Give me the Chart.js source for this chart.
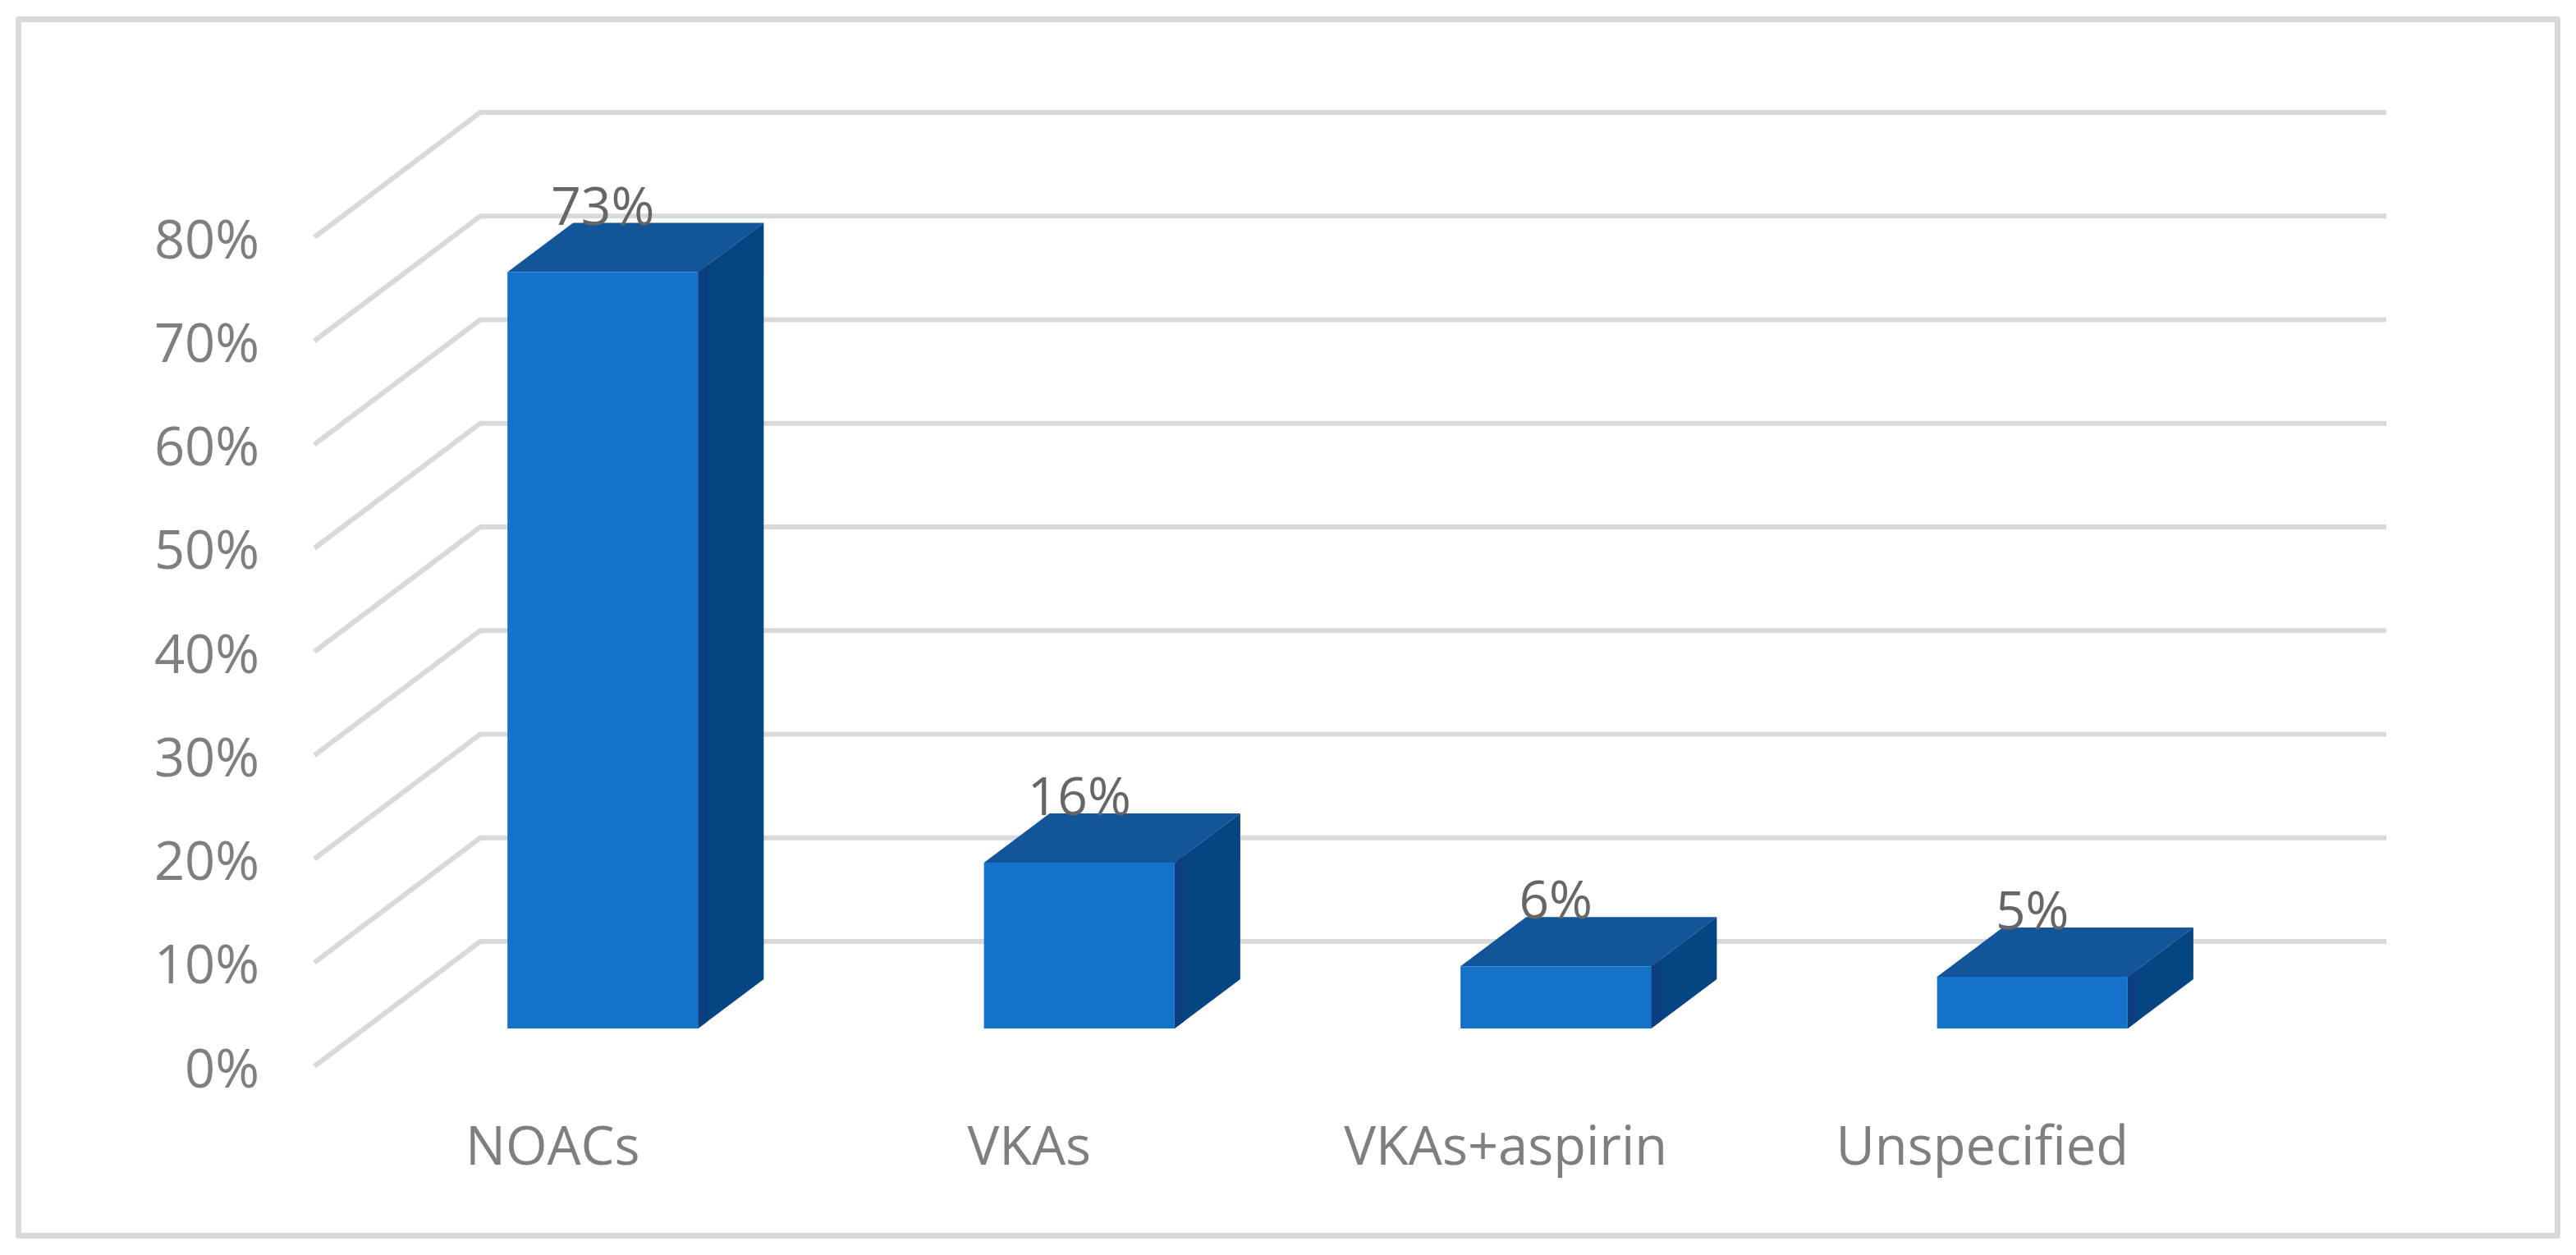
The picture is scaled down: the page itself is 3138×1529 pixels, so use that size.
<!DOCTYPE html>
<html>
<head>
<meta charset="utf-8">
<title>Anticoagulant share</title>
<script src="https://cdn.jsdelivr.net/npm/chart.js@4/dist/chart.umd.min.js"></script>
<style>
  html, body { margin: 0; padding: 0; background: #fff; }
  canvas { display: block; }
</style>
</head>
<body>
<canvas id="chart" width="3138" height="1529"></canvas>
<script>
const categories = ["NOACs", "VKAs", "VKAs+aspirin", "Unspecified"];
const shareValues = [73, 16, 6, 5];
const tickValues = [0, 10, 20, 30, 40, 50, 60, 70, 80];

const FONT = '"Open Sans", sans-serif';
const GRID = "#d9d9d9";
const FRONT = "#1572cb";
const TOP = "#125599";
const SIDE = "#054582";
const SIDE_EDGE = "#0c3f80";

// fake 3D: the bars sit on the real scales, the floor is offset in front of and behind them
const frontDx = -61, frontDy = 46;
const backDx = 141, backDy = -106;
const barDx = 80, barDy = -60;

const poly = (ctx, color, pts) => {
  ctx.fillStyle = color;
  ctx.beginPath();
  pts.forEach((p, i) => (i ? ctx.lineTo(p[0], p[1]) : ctx.moveTo(p[0], p[1])));
  ctx.closePath();
  ctx.fill();
};

const fakeDepth = {
  id: "fakeDepth",
  beforeDraw(chart) {
    const ctx = chart.ctx;
    ctx.save();
    ctx.fillStyle = "#fff";
    ctx.fillRect(0, 0, chart.width, chart.height);
    ctx.strokeStyle = GRID;
    ctx.lineWidth = 7;
    ctx.lineJoin = "round";
    ctx.strokeRect(22.5, 23.5, 3093, 1482);
    ctx.restore();
  },
  beforeDatasetsDraw(chart) {
    const ctx = chart.ctx;
    const { left, right } = chart.chartArea;
    const y = chart.scales.y;
    ctx.save();
    ctx.strokeStyle = GRID;
    ctx.lineWidth = 6;
    ctx.lineJoin = "miter";
    tickValues.forEach((v) => {
      const py = y.getPixelForValue(v);
      ctx.beginPath();
      ctx.moveTo(left + frontDx, py + frontDy);
      ctx.lineTo(left + backDx, py + backDy);
      ctx.lineTo(right + backDx, py + backDy);
      ctx.stroke();
    });
    // top and side faces of each bar
    chart.getDatasetMeta(0).data.forEach((bar) => {
      const l = bar.x - bar.width / 2;
      const r = bar.x + bar.width / 2;
      poly(ctx, TOP, [[l, bar.y], [l + barDx, bar.y + barDy], [r + barDx, bar.y + barDy], [r, bar.y]]);
      poly(ctx, SIDE, [[r, bar.y], [r + barDx, bar.y + barDy], [r + barDx, bar.base + barDy], [r, bar.base]]);
      poly(ctx, SIDE_EDGE, [[r, bar.y], [r + 12, bar.y - 9], [r + 12, bar.base - 9], [r, bar.base]]);
    });
    ctx.restore();
  },
  afterDatasetsDraw(chart) {
    const ctx = chart.ctx;
    ctx.save();
    ctx.fillStyle = "#666";
    ctx.font = "64px " + FONT;
    ctx.textAlign = "center";
    ctx.textBaseline = "middle";
    chart.getDatasetMeta(0).data.forEach((bar, i) => {
      ctx.fillText(shareValues[i] + "%", bar.x, bar.y - 76);
    });
    ctx.restore();
  },
};

new Chart(document.getElementById("chart"), {
  type: "bar",
  data: {
    labels: categories,
    datasets: [
      {
        data: shareValues,
        backgroundColor: FRONT,
        borderWidth: 0,
        barPercentage: 0.4,
        categoryPercentage: 1,
      },
    ],
  },
  options: {
    responsive: false,
    animation: false,
    layout: { padding: { top: 243, right: 372, left: 0, bottom: 0 } },
    plugins: { legend: { display: false }, tooltip: { enabled: false } },
    scales: {
      x: {
        afterFit: (scale) => { scale.height = 276; },
        grid: { display: false, drawTicks: false },
        border: { display: false },
        ticks: {
          color: "#7f7f7f",
          font: { family: FONT, size: 65 },
          padding: 108,
          labelOffset: frontDx,
          maxRotation: 0,
          autoSkip: false,
        },
      },
      y: {
        min: 0,
        max: 80,
        afterFit: (scale) => { scale.width = 444; },
        afterBuildTicks: (scale) => { scale.ticks = tickValues.map((value) => ({ value })); },
        grid: { display: false, drawTicks: false },
        border: { display: false },
        ticks: {
          color: "#7f7f7f",
          font: { family: FONT, size: 65 },
          padding: 128,
          labelOffset: frontDy + 7,
          callback: (v) => v + "%",
        },
      },
    },
  },
  plugins: [fakeDepth],
});
</script>
</body>
</html>
